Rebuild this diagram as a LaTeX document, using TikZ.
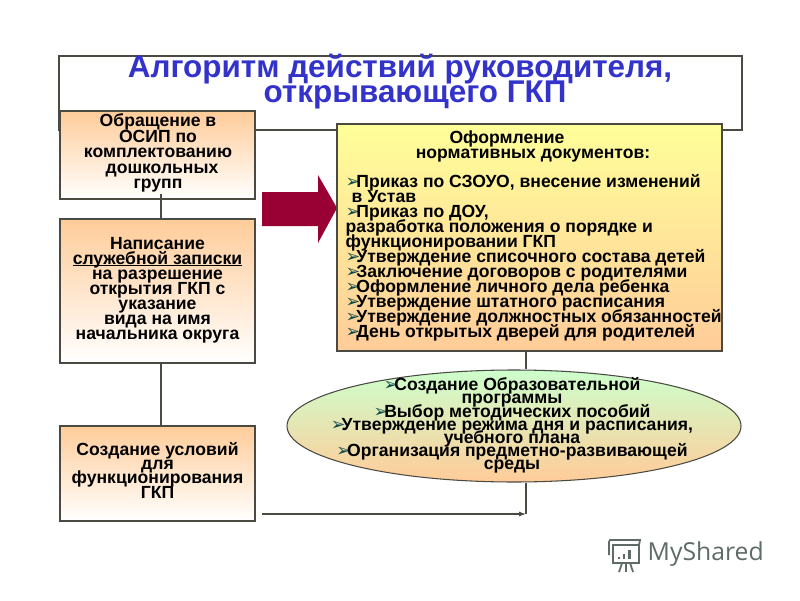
\documentclass[tikz,border=0pt]{standalone}
\usepackage{fontspec}
\setmainfont{Liberation Sans}
\newfontfamily\markfont{DejaVu Sans}
\newfontfamily\logofont{Open Sans}
\usetikzlibrary{arrows.meta,shapes.geometric}
\definecolor{titleblue}{HTML}{3333CC}
\definecolor{boxorange}{HTML}{FFCC99}
\definecolor{boxyellow}{HTML}{FFFF99}
\definecolor{boxgreen}{HTML}{CCFFCC}
\definecolor{arrowred}{HTML}{990033}
\definecolor{edgegray}{HTML}{4A4A42}
\definecolor{logogray}{HTML}{5F6B66}
\definecolor{bulletteal}{HTML}{0F4A4A}
\def\bul{{\markfont\color{bulletteal}\char"27A2}\hspace{-0.04cm}}
\def\ulined#1{\leavevmode\setbox0\hbox{#1}\rlap{\rule[-0.6pt]{\wd0}{0.3pt}}\box0}
\lineskiplimit=-20pt
\tikzset{
	bodytext/.style={font=\bfseries\fontsize{5pt}{4.27pt}\selectfont, align=center, text=black, inner sep=0pt},
	stepbox/.style={draw=edgegray, line width=0.3pt, top color=boxorange, bottom color=white, minimum width=1.95cm, inner sep=0pt},
	link/.style={draw=edgegray, line width=0.3pt},
	logoline/.style={draw=logogray, line width=0.5pt}
}

\begin{document}
\begin{tikzpicture}
			%%%%% START %%%%%
			\useasboundingbox (0, 0) rectangle (8, 6);
			\fill[white] (0, 0) rectangle (8, 6);

			\node[draw=edgegray, line width=0.3pt, minimum width=6.83cm, minimum height=0.74cm, inner sep=0pt] (titlebox) at (4.005, 5.07) {};
			\node[font=\bfseries\fontsize{8.94pt}{7.1pt}\selectfont, text=titleblue, align=center, inner sep=0pt] (title) at (4.0, 5.18) {Алгоритм действий  руководителя,\\\hspace*{0.3cm}открывающего ГКП};

			\node[stepbox, minimum height=0.88cm] (osip) at (1.575, 4.45) {};
			\node[bodytext, font=\bfseries\fontsize{5pt}{4.41pt}\selectfont] (osiptext) at (1.58, 4.47) {Обращение в\\ОСИП по\\комплектованию\\\hspace*{0.08cm}дошкольных\\групп};

			\node[stepbox, minimum height=1.44cm] (zapiska) at (1.575, 3.09) {};
			\node[bodytext] (zapiskatext) at (1.575, 3.1) {Написание\\\ulined{служебной записки}\\на разрешение\\открытия ГКП с\\указание\\вида на имя\\начальника округа};

			\node[stepbox, minimum height=0.95cm] (usloviya) at (1.575, 1.265) {};
			\node[bodytext, font=\bfseries\fontsize{5pt}{4.07pt}\selectfont] (usloviyatext) at (1.575, 1.3) {Создание условий\\для\\функционирования\\ГКП};

			\draw[link] ([shift={(0.035, 0.06)}]osip.south) -- ([xshift=0.035cm]zapiska.north);
			\draw[link] ([xshift=0.035cm]zapiska.south) -- ([xshift=0.035cm]usloviya.north);

			\fill[arrowred] (2.62, 3.74) -- (3.18, 3.74) -- (3.18, 3.57) -- (3.37, 3.92) -- (3.18, 4.25) -- (3.18, 4.08) -- (2.62, 4.08) -- cycle;

			\node[draw=edgegray, line width=0.3pt, top color=boxyellow, bottom color=boxorange, minimum width=3.85cm, minimum height=2.27cm, inner sep=0pt] (docs) at (5.295, 3.625) {};
			\node[bodytext] (docshead) at (5.33, 4.535) {Оформление\hspace*{0.52cm}\\нормативных документов:};
			\node[bodytext, anchor=west, align=left] (docslist) at (3.45, 3.42) {\bul Приказ по СЗОУО, внесение изменений\\\hspace*{0.06cm}в Устав\\\bul Приказ по ДОУ,\\разработка положения о порядке и\\функционировании ГКП\\\bul Утверждение списочного состава детей\\\bul Заключение договоров с родителями\\\bul Оформление личного дела ребенка\\\bul Утверждение штатного расписания\\\bul Утверждение должностных обязанностей\\\bul День открытых дверей для родителей};

			\node[draw=edgegray, line width=0.3pt, ellipse, top color=boxgreen, bottom color=boxorange, minimum width=4.54cm, minimum height=1.12cm, inner sep=0pt] (prog) at (5.14, 1.74) {};
			\node[bodytext, font=\bfseries\fontsize{5pt}{3.76pt}\selectfont] (progtext) at (5.12, 1.745) {\bul Создание Образовательной\\программы\\\bul Выбор методических пособий\\\bul Утверждение режима дня и расписания,\\учебного плана\\\bul Организация предметно-развивающей\\среды};

			\coordinate (corner) at (5.26, 0.86);
			\coordinate (feed) at (2.62, 0.86);
			\draw[link] (docs.south -| corner) -- (prog.north -| corner);
			\draw[link] (prog.south -| corner) -- (corner);
			\draw[link, -{Latex[length=0.07cm, width=0.05cm]}] (feed) -- (corner);

			\draw[logoline] (6.13, 0.55) rectangle (6.39, 0.37);
			\draw[logoline] (6.09, 0.45) -- (6.09, 0.58) -- (6.10, 0.6) -- (6.40, 0.6) -- (6.39, 0.55);
			\draw[logoline] (6.22, 0.37) -- (6.19, 0.28);
			\draw[logoline] (6.26, 0.37) -- (6.26, 0.28);
			\draw[logoline] (6.30, 0.37) -- (6.33, 0.28);
			\fill[logogray] (6.18, 0.41) rectangle (6.2, 0.43);
			\fill[logogray] (6.23, 0.41) rectangle (6.25, 0.46);
			\fill[logogray] (6.28, 0.41) rectangle (6.31, 0.5);
			\node[font=\logofont\fontsize{7.04pt}{8pt}\selectfont, text=logogray, anchor=west, inner sep=0pt] (logo) at (6.47, 0.46) {MyShared};
			%%%%% END %%%%%
\end{tikzpicture}
\end{document}
